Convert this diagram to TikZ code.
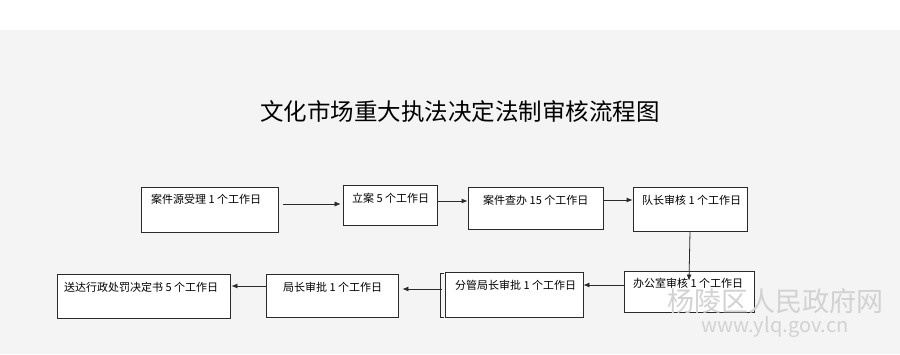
\documentclass[tikz,border=0pt]{standalone}
\usepackage{fontspec}
\setmainfont{Noto Sans CJK SC}
\newfontfamily\cjk{Noto Sans CJK SC}
\usepackage{xcolor}
\definecolor{colBg}{HTML}{F4F4F4}
\definecolor{colLine}{HTML}{2A2A2A}
\definecolor{colMark}{HTML}{D2D2D2}
\usetikzlibrary{arrows.meta, positioning, calc}

\begin{document}
\begin{tikzpicture}[x=1pt, y=-1pt, >={Latex[length=6pt,width=5pt]},
	box/.style={draw=colLine, line width=0.8pt, fill=white, inner sep=0pt},
	lbl/.style={anchor=west, inner sep=0pt, font=\cjk\fontsize{11}{12}\selectfont},
	arr/.style={->, line width=0.8pt, colLine}]
	% background
	\fill[white] (0,0) rectangle (900,30);
	\fill[colBg] (0,30) rectangle (900,354);
	\useasboundingbox (0,0) rectangle (900,354);
	% title
	\node[font=\cjk\fontsize{23.5}{26}\selectfont] (title) at (460,112)
		{文化市场重大执法决定法制审核流程图};
	% upper row
	\node[box, minimum width=137, minimum height=45] (b1) at (209.5,209.5) {};
	\node[box, minimum width=94, minimum height=40] (b2) at (390,205) {};
	\node[box, minimum width=135, minimum height=42] (b3) at (535.5,208) {};
	\node[box, minimum width=114, minimum height=44] (b4) at (690,209) {};
	% lower row
	\node[box, minimum width=130, minimum height=41] (b5) at (689,291.5) {};
	\node[box, minimum width=138, minimum height=45] (b6) at (514,294.5) {};
	\node[box, minimum width=132, minimum height=43] (b7) at (332,295.5) {};
	\node[box, minimum width=173, minimum height=44] (b8) at (143.5,296) {};
	\draw[colLine, line width=0.6pt] ($(b6.north west)+(-1,2)$) -- ++(-3,0) |- ($(b6.south west)+(-1,0)$);
	% labels
	\node[lbl] (t1) at (151,199) {案件源受理 1 个工作日};
	\node[lbl] (t2) at (352,198) {立案 5 个工作日};
	\node[lbl] (t3) at (483,200) {案件查办 15 个工作日};
	\node[lbl] (t4) at (642,200) {队长审核 1 个工作日};
	\node[lbl] (t5) at (633,283) {办公室审核 1 个工作日};
	\node[lbl] (t6) at (455,285) {分管局长审批 1 个工作日};
	\node[lbl] (t7) at (283,287) {局长审批 1 个工作日};
	\node[lbl] (t8) at (64,287) {送达行政处罚决定书 5 个工作日};
	% connectors
	\draw[arr, line width=0.5pt, shorten <=5pt, shorten >=2pt] (b1.east |- 0,204) -- (b2.west |- 0,204);
	\draw[arr] (b2.east |- 0,201) -- (b3.west |- 0,201);
	\draw[arr] (b3.east |- 0,200) -- (b4.west |- 0,200);
	\draw[arr] (b4.south) -- ([yshift=-10pt]b5.north);
	\draw[arr] (b5.west |- 0,285) -- (b6.east |- 0,285);
	\draw[arr] ([xshift=-3pt]b6.west |- 0,289) -- ([xshift=4pt]b7.east |- 0,289);
	\draw[arr] (b7.west |- 0,286) -- ([xshift=1pt]b8.east |- 0,286);
	% watermark
	\node[text=colMark, font=\cjk\fontsize{27}{29}\selectfont, inner sep=0pt] (mark) at (775,301) {杨陵区人民政府网};
	\node[text=colMark, font=\fontsize{20}{22}\selectfont, inner sep=0pt, below=3pt of mark] (url) {www.ylq.gov.cn};
\end{tikzpicture}
\end{document}
